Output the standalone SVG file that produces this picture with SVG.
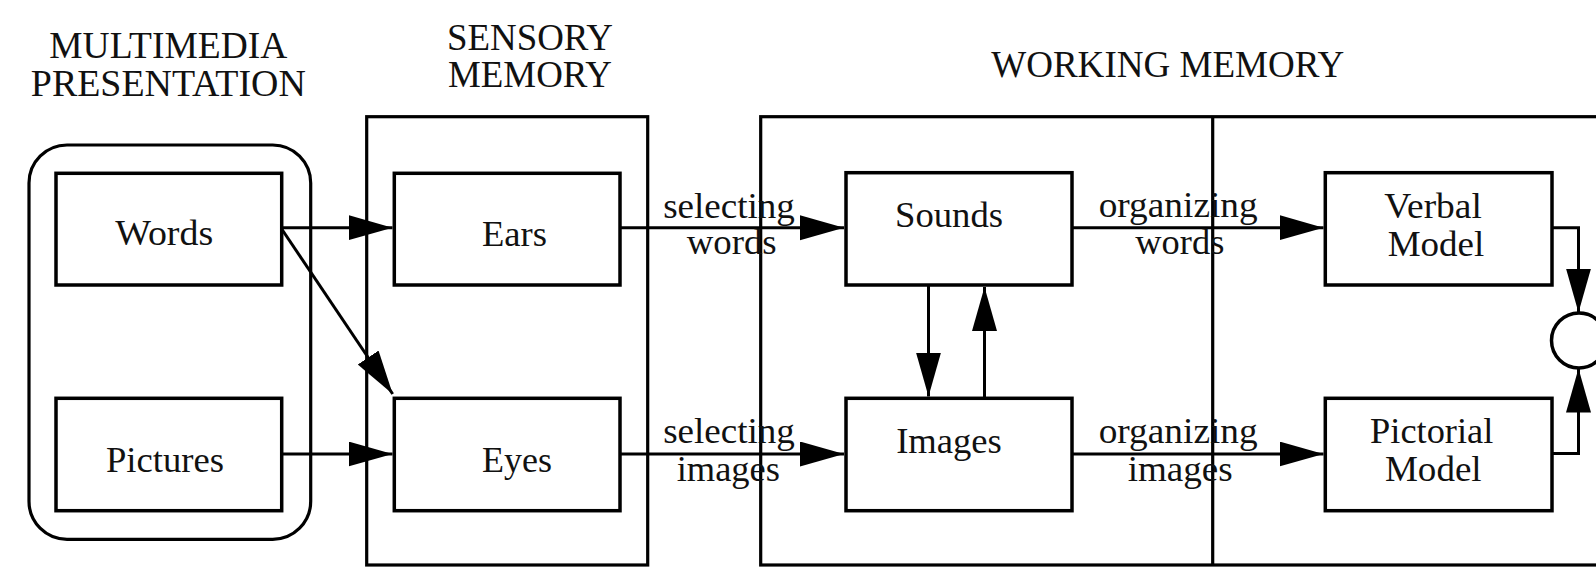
<svg xmlns="http://www.w3.org/2000/svg" width="1596" height="567" viewBox="0 0 1596 567">
  <style>
    .box { fill: none; stroke: #000; stroke-width: 3.5; }
    .frame { fill: none; stroke: #000; stroke-width: 3.2; }
    .conn { fill: none; stroke: #000; stroke-width: 3; }
    .head { font-family: "Liberation Serif", "Times New Roman", serif; font-size: 37px; fill: #111; text-anchor: middle; }
    .lbl { font-family: "Liberation Serif", "Times New Roman", serif; font-size: 36.5px; fill: #111; text-anchor: middle; }
  </style>
  <defs>
    <marker id="arr" markerUnits="userSpaceOnUse" markerWidth="46" markerHeight="26" refX="44" refY="12.5" orient="auto">
      <path d="M0,0 L44,12.5 L0,25 z" fill="#000"/>
    </marker>
  </defs>
  <rect width="1596" height="567" fill="#fff"/>

  <g id="headers">
    <text class="head" x="168.3" y="58.3" textLength="238" lengthAdjust="spacingAndGlyphs">MULTIMEDIA</text>
    <text class="head" x="168.3" y="96" textLength="275" lengthAdjust="spacingAndGlyphs">PRESENTATION</text>
    <text class="head" x="530" y="50" textLength="166" lengthAdjust="spacingAndGlyphs">SENSORY</text>
    <text class="head" x="530" y="86.7" textLength="164" lengthAdjust="spacingAndGlyphs">MEMORY</text>
    <text class="head" x="1167.7" y="76.7" textLength="353" lengthAdjust="spacingAndGlyphs">WORKING MEMORY</text>
  </g>

  <g id="presentation-frame">
    <rect class="frame" x="29" y="145" width="281.7" height="394.3" rx="38" ry="38"/>
  </g>
  <g id="sensory-frame">
    <rect class="frame" x="366.7" y="116.7" width="281" height="448.3"/>
  </g>
  <g id="working-frame">
    <rect class="frame" x="760.7" y="116.7" width="900" height="448.3"/>
    <line class="frame" x1="1212.7" y1="116.7" x2="1212.7" y2="565"/>
  </g>

  <g id="words">
    <rect class="box" x="56" y="173.3" width="225.7" height="111.7"/>
    <text class="lbl" x="164.2" y="245" textLength="98" lengthAdjust="spacingAndGlyphs">Words</text>
  </g>
  <g id="pictures">
    <rect class="box" x="56" y="398.3" width="225.7" height="112.4"/>
    <text class="lbl" x="165" y="471.7" textLength="118" lengthAdjust="spacingAndGlyphs">Pictures</text>
  </g>
  <g id="ears">
    <rect class="box" x="394.3" y="173.3" width="225.7" height="111.7"/>
    <text class="lbl" x="514.5" y="246" textLength="65" lengthAdjust="spacingAndGlyphs">Ears</text>
  </g>
  <g id="eyes">
    <rect class="box" x="394.3" y="398.3" width="225.7" height="112.4"/>
    <text class="lbl" x="517" y="471.7" textLength="70" lengthAdjust="spacingAndGlyphs">Eyes</text>
  </g>
  <g id="sounds">
    <rect class="box" x="846" y="172.7" width="226" height="112.3"/>
    <text class="lbl" x="949" y="226.7" textLength="108" lengthAdjust="spacingAndGlyphs">Sounds</text>
  </g>
  <g id="images">
    <rect class="box" x="846" y="398.3" width="226" height="112.4"/>
    <text class="lbl" x="949" y="453.3" textLength="105.7" lengthAdjust="spacingAndGlyphs">Images</text>
  </g>
  <g id="verbal-model">
    <rect class="box" x="1325.3" y="172.7" width="226.7" height="112.3"/>
    <text class="lbl" x="1433" y="217.5" textLength="97.7" lengthAdjust="spacingAndGlyphs">Verbal</text>
    <text class="lbl" x="1436" y="256" textLength="96.6" lengthAdjust="spacingAndGlyphs">Model</text>
  </g>
  <g id="pictorial-model">
    <rect class="box" x="1325.3" y="398.3" width="226.7" height="112.4"/>
    <text class="lbl" x="1431.7" y="443.3" textLength="123.3" lengthAdjust="spacingAndGlyphs">Pictorial</text>
    <text class="lbl" x="1433.3" y="481" textLength="96.7" lengthAdjust="spacingAndGlyphs">Model</text>
  </g>
  <g id="integration">
    <circle class="box" cx="1579" cy="340.5" r="27.5"/>
  </g>

  <g id="connectors">
    <line class="conn" x1="281.7" y1="227.7" x2="392.5" y2="227.7" marker-end="url(#arr)"/>
    <line class="conn" x1="281.7" y1="229" x2="392.7" y2="394" marker-end="url(#arr)"/>
    <line class="conn" x1="281.7" y1="454" x2="392.5" y2="454" marker-end="url(#arr)"/>
    <line class="conn" x1="620" y1="227.7" x2="844" y2="227.7" marker-end="url(#arr)"/>
    <line class="conn" x1="620" y1="454" x2="844" y2="454" marker-end="url(#arr)"/>
    <line class="conn" x1="1072" y1="227.7" x2="1323.5" y2="227.7" marker-end="url(#arr)"/>
    <line class="conn" x1="1072" y1="454" x2="1323.5" y2="454" marker-end="url(#arr)"/>
    <line class="conn" x1="928.5" y1="285" x2="928.5" y2="396.5" marker-end="url(#arr)"/>
    <line class="conn" x1="984.5" y1="398.3" x2="984.5" y2="287" marker-end="url(#arr)"/>
    <path class="conn" d="M1552,227.7 H1578.5 V312.5" marker-end="url(#arr)"/>
    <path class="conn" d="M1552,453.5 H1578.5 V368.5" marker-end="url(#arr)"/>
    <text class="lbl" x="729" y="218" textLength="131.7" lengthAdjust="spacingAndGlyphs">selecting</text>
    <text class="lbl" x="731.7" y="254" textLength="90" lengthAdjust="spacingAndGlyphs">words</text>
    <text class="lbl" x="729" y="443" textLength="131.7" lengthAdjust="spacingAndGlyphs">selecting</text>
    <text class="lbl" x="728.3" y="480.5" textLength="103.3" lengthAdjust="spacingAndGlyphs">images</text>
    <text class="lbl" x="1178.2" y="216.5" textLength="159" lengthAdjust="spacingAndGlyphs">organizing</text>
    <text class="lbl" x="1179.8" y="254" textLength="89" lengthAdjust="spacingAndGlyphs">words</text>
    <text class="lbl" x="1178.2" y="443" textLength="159" lengthAdjust="spacingAndGlyphs">organizing</text>
    <text class="lbl" x="1180.2" y="480.5" textLength="105" lengthAdjust="spacingAndGlyphs">images</text>
  </g>
</svg>
